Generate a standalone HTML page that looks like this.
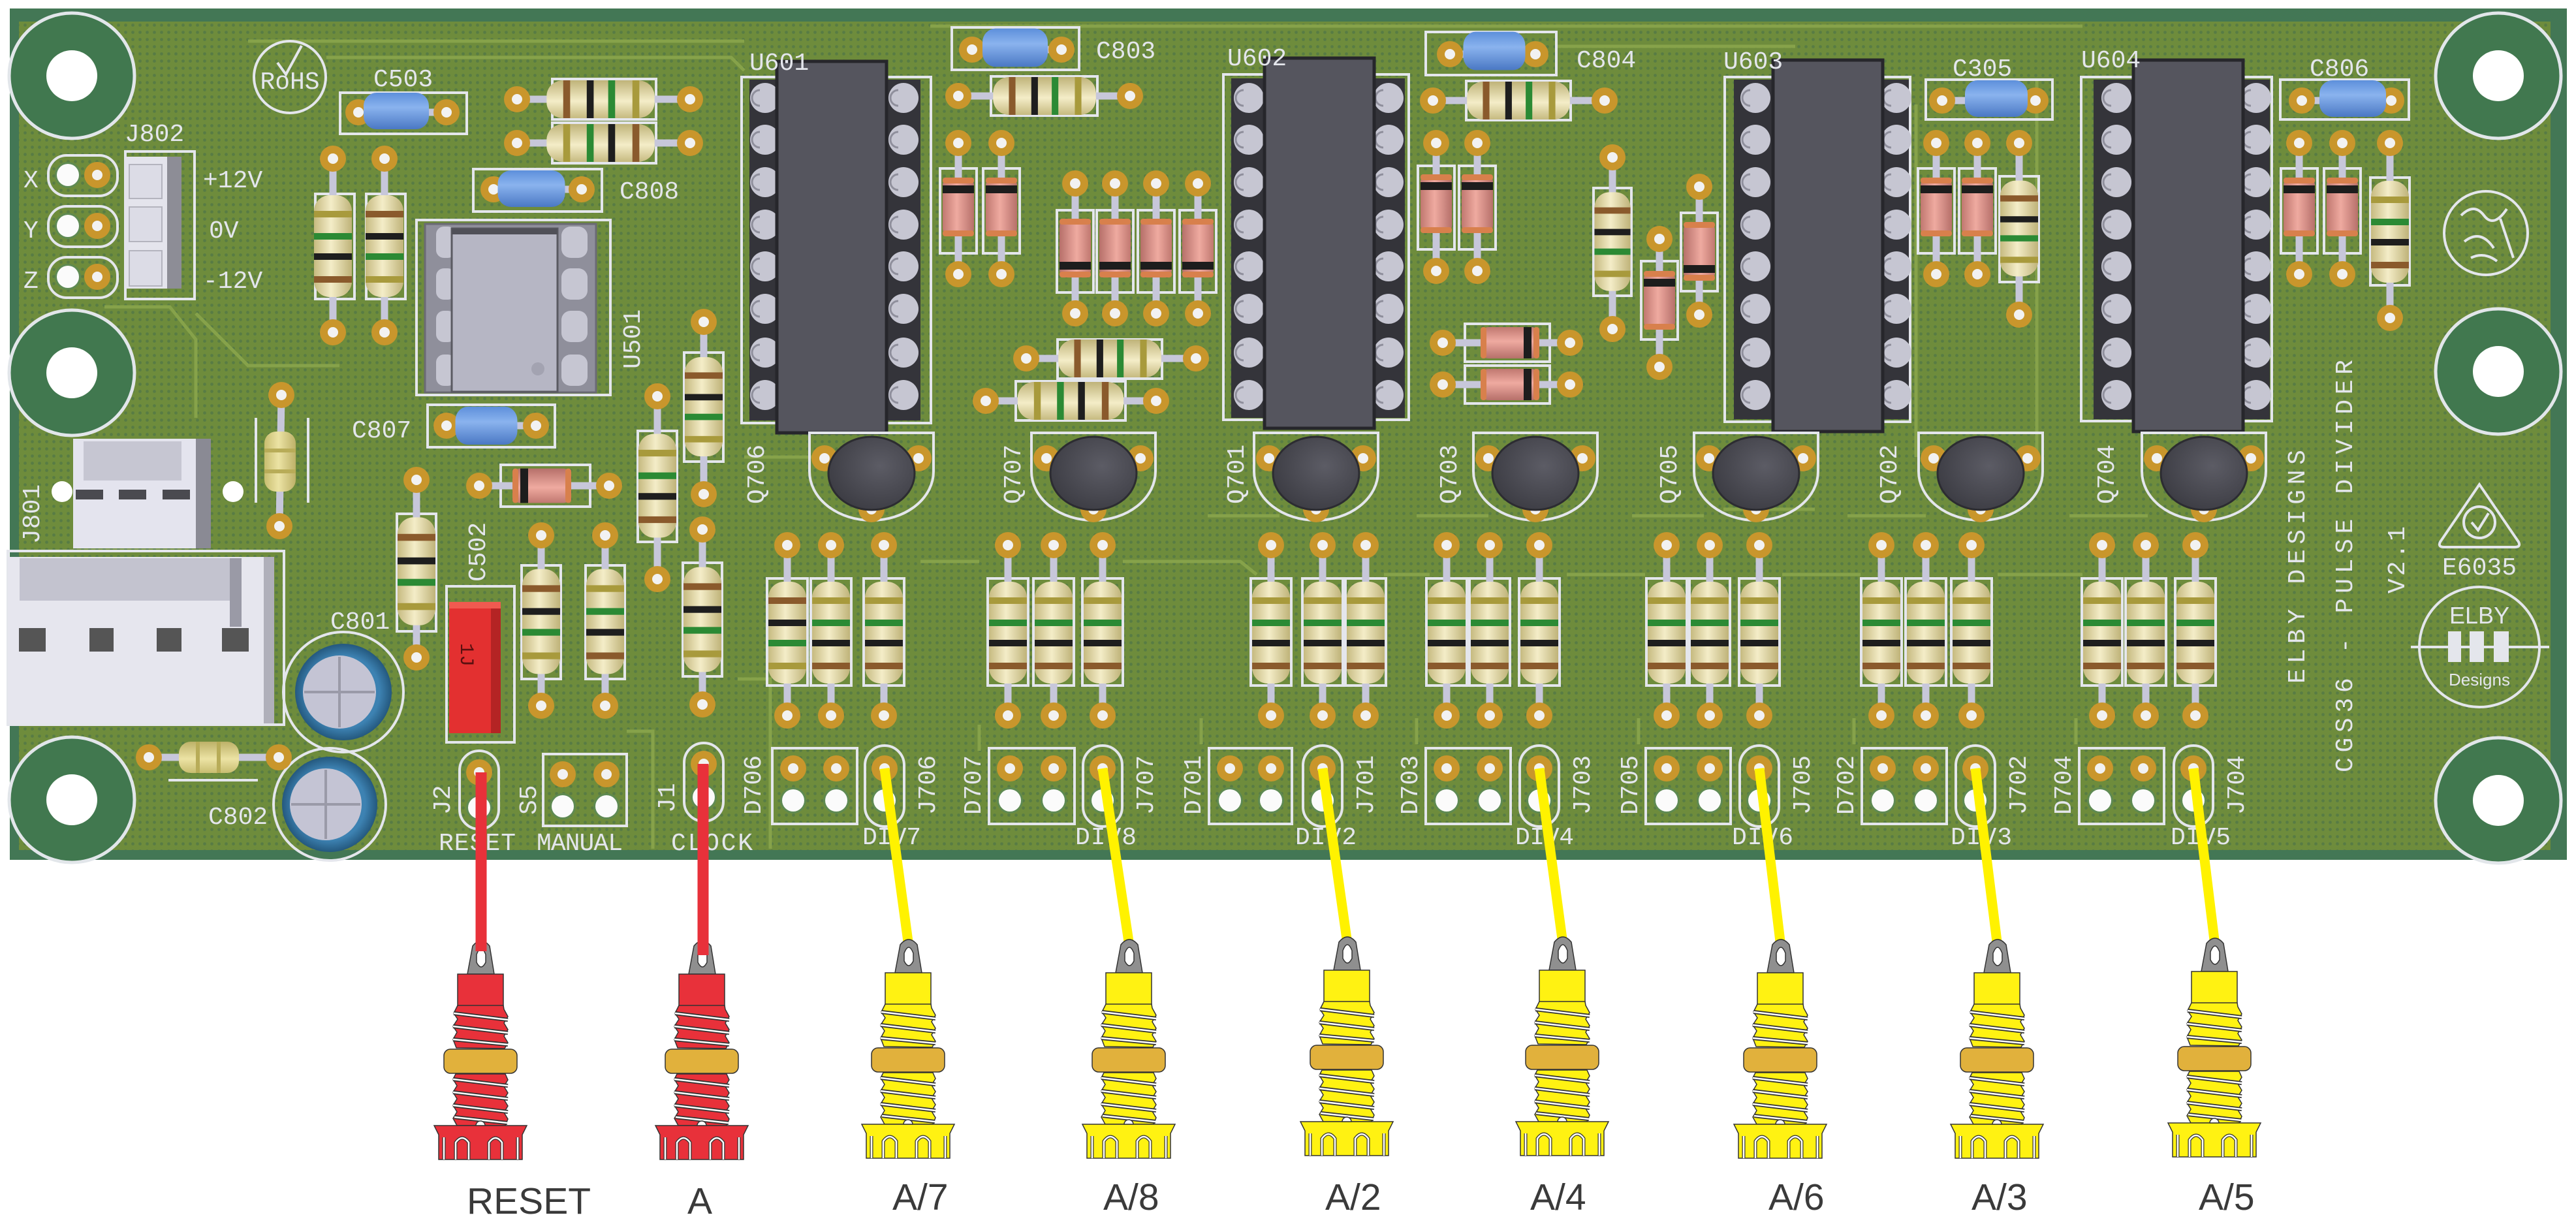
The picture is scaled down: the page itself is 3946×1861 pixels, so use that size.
<!DOCTYPE html>
<html><head><meta charset="utf-8"><style>
html,body{margin:0;padding:0;background:#fff;width:3946px;height:1861px;overflow:hidden}
svg{display:block}
.ld{stroke:#c7c7da;stroke-width:11;stroke-linecap:round;fill:none}
.sk{fill:none;stroke:#e4e6ec;stroke-width:4}
.tx{font-family:"Liberation Mono",monospace;fill:#e4e6ec;font-size:38px}
.tr{stroke:#86a24a;stroke-width:5;fill:none}
.lb{font-family:"Liberation Sans",Arial,sans-serif;font-size:57px;fill:#3a3a3a}
</style></head><body>
<svg width="3946" height="1861" viewBox="0 0 3946 1861" xmlns="http://www.w3.org/2000/svg">
<defs>
<pattern id="dots" width="11" height="11" patternUnits="userSpaceOnUse">
<rect width="11" height="11" fill="#6e8c3c"/><circle cx="5.5" cy="5.5" r="2.4" fill="#587c44"/>
</pattern>
<linearGradient id="gBeige" x1="0" y1="0" x2="1" y2="0"><stop offset="0" stop-color="#c6ba80"/><stop offset="0.45" stop-color="#f4edc8"/><stop offset="1" stop-color="#bfb379"/></linearGradient>
<linearGradient id="gYel" x1="0" y1="0" x2="1" y2="0"><stop offset="0" stop-color="#c8bd70"/><stop offset="0.45" stop-color="#ece3a4"/><stop offset="1" stop-color="#bdb168"/></linearGradient>
<linearGradient id="gPink" x1="0" y1="0" x2="1" y2="0"><stop offset="0" stop-color="#c07870"/><stop offset="0.45" stop-color="#efaaa0"/><stop offset="1" stop-color="#b6706a"/></linearGradient>
<linearGradient id="gBlue" x1="0" y1="0" x2="0" y2="1"><stop offset="0" stop-color="#5d8fdb"/><stop offset="0.4" stop-color="#8ab3ee"/><stop offset="1" stop-color="#4a78c4"/></linearGradient>
<radialGradient id="gTr" cx="0.6" cy="0.4" r="0.7"><stop offset="0" stop-color="#5c5c65"/><stop offset="1" stop-color="#3a3a41"/></radialGradient>
<radialGradient id="gEl" cx="0.5" cy="0.5" r="0.5"><stop offset="0.75" stop-color="#3d82b2"/><stop offset="1" stop-color="#24587e"/></radialGradient>

<g id="rvA">
<rect x="-29" y="-78" width="58" height="156" rx="24" fill="url(#gBeige)"/>
<rect x="-29" y="-54" width="58" height="10" fill="#a89a3c"/>
<rect x="-29" y="-20" width="58" height="10" fill="#2b8a34"/>
<rect x="-29" y="11" width="58" height="10" fill="#1e1e1e"/>
<rect x="-29" y="46" width="58" height="10" fill="#8a5a2c"/>
</g>
<g id="rvB">
<rect x="-29" y="-78" width="58" height="156" rx="24" fill="url(#gBeige)"/>
<rect x="-29" y="-54" width="58" height="10" fill="#8a5a2c"/>
<rect x="-29" y="-20" width="58" height="10" fill="#1e1e1e"/>
<rect x="-29" y="11" width="58" height="10" fill="#2b8a34"/>
<rect x="-29" y="46" width="58" height="10" fill="#a89a3c"/>
</g>
<g id="rvC"><rect x="-24" y="-46" width="48" height="92" rx="18" fill="url(#gYel)"/><rect x="-24" y="-20" width="48" height="6" fill="#b8ac58"/><rect x="-24" y="12" width="48" height="6" fill="#b8ac58"/></g>
<g id="dv">
<rect x="-24" y="-45" width="48" height="90" rx="12" fill="url(#gPink)"/>
<rect x="-24" y="-45" width="48" height="9" rx="4" fill="#d8804c"/>
<rect x="-24" y="36" width="48" height="9" rx="4" fill="#d8804c"/>
<rect x="-24" y="-33" width="48" height="12" fill="#1d1d1d"/>
</g>
<g id="cap"><rect x="-50" y="-28" width="100" height="56" rx="20" fill="url(#gBlue)"/></g>
<g id="pad"><circle r="20" fill="#c9962c"/><circle r="8" fill="#f2f2f2"/></g>
<g id="hw"><circle r="20" fill="#5f8a52"/><circle r="17" fill="#fbfbfb"/></g>
<g id="mh"><circle r="96" fill="#41784f" stroke="#e2e6ea" stroke-width="5"/><circle r="39" fill="#fff"/></g>
<g id="pin"><circle r="23" fill="#c6c6d2"/><path d="M-8,-12 A12,12 0 0 0 -8,12" stroke="#8f8f9c" stroke-width="3" fill="none"/></g>

<g id="tq">
<path d="M-95,663 L95,663 L95,722 A95,75 0 0 1 -95,722 Z" class="sk"/>
<use href="#pad" x="-72" y="702"/><use href="#pad" x="72" y="702"/><use href="#pad" x="0" y="780"/>
<ellipse cx="0" cy="725" rx="66" ry="56" fill="url(#gTr)" stroke="#2c2c31" stroke-width="3"/>
</g>
<g id="rrow">
<rect class="sk" x="-31" y="886" width="62" height="164"/>
<line class="ld" x1="0" y1="835" x2="0" y2="1096"/>
<use href="#pad" x="0" y="835"/><use href="#pad" x="0" y="1096"/>
<use href="#rvA" x="0" y="969"/>
</g>
<g id="rrowB">
<rect class="sk" x="-31" y="886" width="62" height="164"/>
<line class="ld" x1="0" y1="835" x2="0" y2="1096"/>
<use href="#pad" x="0" y="835"/><use href="#pad" x="0" y="1096"/>
<use href="#rvB" x="0" y="969"/>
</g>

<g id="jack" stroke="#333" stroke-width="1.5">
<path d="M-20,52 L-12,9 Q1,-7 14,9 L21,52 Z" fill="#8f8f8f"/>
<path d="M-6,22 Q1,4 8,22 L8,34 Q1,48 -6,34 Z" fill="#fff"/>
<rect x="-35" y="52" width="70" height="50"/>
<path d="M-35,100 L-41,112 L-35,121 L-42,132 L-36,141 L-42,152 L-37,165 L37,166 L42,157 L36,147 L42,137 L36,127 L42,117 L36,106 L35,100 Z"/>
<path d="M-41,112 L42,122 M-42,132 L42,142 M-42,152 L42,160" stroke="#333" stroke-width="6" fill="none"/>
<path d="M-41,112 L42,122 M-42,132 L42,142 M-42,152 L42,160" stroke="#fff" stroke-width="2.5" fill="none"/>
<rect x="-56" y="167" width="112" height="37" rx="10" fill="#e1b13c"/>
<path d="M-38,205 L38,205 L42,214 L36,224 L42,234 L36,244 L42,254 L36,264 L42,274 L38,284 L-36,284 L-42,273 L-36,263 L-42,253 L-36,243 L-42,233 L-36,223 L-42,213 Z"/>
<path d="M-42,213 L42,223 M-42,233 L42,243 M-42,253 L42,263 M-40,271 L41,280" stroke="#333" stroke-width="6" fill="none"/>
<path d="M-42,213 L42,223 M-42,233 L42,243 M-42,253 L42,263 M-40,271 L41,280" stroke="#fff" stroke-width="2.5" fill="none"/>
<path d="M-71,284 L71,284 L64,298 L64,336 L-64,336 L-64,298 Z"/>
<path d="M-7,284 A7,7 0 0 1 7,284 Z" fill="#fff"/>
<path d="M-38,336 V310 Q-28,296 -18,310 V336 M13,336 V310 Q23,296 33,310 V336 M-56,336 V302 M57,336 V302" stroke="#333" stroke-width="5" fill="none"/>
<path d="M-38,336 V310 Q-28,296 -18,310 V336 M13,336 V310 Q23,296 33,310 V336 M-56,336 V302 M57,336 V302" stroke="#fff" stroke-width="2.5" fill="none"/>
</g>
</defs>

<!-- BOARD -->
<rect x="15" y="13" width="3917" height="1304" fill="#437755"/>
<rect x="29" y="33" width="3878" height="1269" fill="url(#dots)"/>

<!-- traces -->
<path class="tr" d="M380,63 H1140 M500,88 H1120 L1140,108 M1425,40 H3190 M2384,71 H2750 M300,480 L380,560 H520 M160,470 H260 L300,520 V640 M1140,700 H1290 M1410,860 H1500 M1720,860 H1900 L1925,880 M2120,880 H2190 M2400,880 H2520 M2730,880 H2850 M3060,880 H3190 M3120,120 V720 M2935,160 V700 M2640,780 H2780 M1850,790 H1960 M2170,790 H2280 M2500,790 H2610 M2830,790 H2950 M3170,790 H3290 M1500,1150 V1110 M1840,1140 V1100 M2170,1140 V1100 M2510,1140 V1100 M2840,1140 V1100 M3180,1140 V1100 M1130,1040 H1180 V1300 M960,1120 H1000 V1300"/>

<!-- mounting holes -->
<use href="#mh" x="110" y="116"/><use href="#mh" x="110" y="571"/><use href="#mh" x="110" y="1225"/>
<use href="#mh" x="3827" y="116"/><use href="#mh" x="3827" y="569"/><use href="#mh" x="3827" y="1226"/>

<!-- RoHS -->
<circle cx="444" cy="118" r="55" class="sk" stroke-width="3"/>
<path d="M425,96 L438,114 L462,70" class="sk" stroke-width="3"/>
<text x="444" y="136" class="tx" font-size="24" text-anchor="middle">RoHS</text>

<!-- C503 -->
<text x="572" y="132" class="tx">C503</text>
<rect class="sk" x="521" y="142" width="194" height="63"/>
<line class="ld" x1="549" y1="172" x2="684" y2="172"/>
<use href="#pad" x="549" y="172"/><use href="#pad" x="684" y="172"/>
<use href="#cap" transform="translate(607,170)"/>

<!-- R1 R2 -->
<rect class="sk" x="846" y="121" width="159" height="62"/>
<line class="ld" x1="792" y1="152" x2="1057" y2="152"/>
<use href="#pad" x="792" y="152"/><use href="#pad" x="1057" y="152"/>
<use href="#rvB" transform="translate(920,152) rotate(-90) scale(1,1.06)"/>
<rect class="sk" x="846" y="188" width="159" height="62"/>
<line class="ld" x1="792" y1="219" x2="1057" y2="219"/>
<use href="#pad" x="792" y="219"/><use href="#pad" x="1057" y="219"/>
<use href="#rvA" transform="translate(920,219) rotate(-90) scale(1,1.06)"/>

<!-- C808 -->
<rect class="sk" x="725" y="259" width="197" height="65"/>
<line class="ld" x1="756" y1="290" x2="891" y2="290"/>
<use href="#pad" x="756" y="290"/><use href="#pad" x="891" y="290"/>
<use href="#cap" transform="translate(814,289) scale(1.03,1)"/>
<text x="949" y="304" class="tx">C808</text>

<!-- J802 -->
<text x="191" y="216" class="tx">J802</text>
<rect class="sk" x="192" y="232" width="106" height="226"/>
<rect x="191" y="240" width="87" height="202" fill="#e4e4ec"/>
<rect x="256" y="240" width="22" height="202" fill="#8d8d96"/>
<rect x="198" y="252" width="50" height="52" fill="#dcdce6" stroke="#b4b4be" stroke-width="2"/>
<rect x="198" y="317" width="50" height="53" fill="#dcdce6" stroke="#b4b4be" stroke-width="2"/>
<rect x="198" y="384" width="50" height="54" fill="#dcdce6" stroke="#b4b4be" stroke-width="2"/>
<text x="36" y="287" class="tx" font-size="36">X</text>
<text x="36" y="364" class="tx" font-size="36">Y</text>
<text x="36" y="441" class="tx" font-size="36">Z</text>
<rect class="sk" x="74" y="238" width="106" height="62" rx="28" stroke-width="3"/>
<rect class="sk" x="74" y="316" width="106" height="62" rx="28" stroke-width="3"/>
<rect class="sk" x="74" y="394" width="106" height="62" rx="28" stroke-width="3"/>
<use href="#hw" x="104" y="268"/><use href="#hw" x="104" y="346"/><use href="#hw" x="104" y="424"/>
<use href="#pad" x="149" y="268"/><use href="#pad" x="149" y="346"/><use href="#pad" x="149" y="424"/>
<text x="311" y="287" class="tx">+12V</text>
<text x="320" y="364" class="tx">0V</text>
<text x="311" y="441" class="tx">-12V</text>

<!-- R 510 589 -->
<rect class="sk" x="483" y="297" width="60" height="161"/>
<line class="ld" x1="510" y1="243" x2="510" y2="509"/>
<use href="#pad" x="510" y="243"/><use href="#pad" x="510" y="509"/>
<use href="#rvA" x="510" y="377"/>
<rect class="sk" x="561" y="297" width="60" height="161"/>
<line class="ld" x1="589" y1="243" x2="589" y2="509"/>
<use href="#pad" x="589" y="243"/><use href="#pad" x="589" y="509"/>
<use href="#rvB" x="589" y="377"/>

<!-- U501 -->
<rect class="sk" x="638" y="337" width="297" height="268"/>
<rect x="651" y="343" width="262" height="258" fill="#8f8f9b" stroke="#6a6a74" stroke-width="3"/>
<rect x="668" y="347" width="30" height="48" rx="12" fill="#c6c6d2"/><rect x="668" y="411" width="30" height="48" rx="12" fill="#c6c6d2"/>
<rect x="668" y="476" width="30" height="48" rx="12" fill="#c6c6d2"/><rect x="668" y="543" width="30" height="48" rx="12" fill="#c6c6d2"/>
<rect x="860" y="347" width="40" height="48" rx="14" fill="#c6c6d2"/><rect x="860" y="411" width="40" height="48" rx="14" fill="#c6c6d2"/>
<rect x="860" y="476" width="40" height="48" rx="14" fill="#c6c6d2"/><rect x="860" y="543" width="40" height="48" rx="14" fill="#c6c6d2"/>
<rect x="692" y="350" width="162" height="250" fill="#b6b6c4" stroke="#5a5a62" stroke-width="3"/>
<rect x="692" y="350" width="162" height="9" fill="#505058"/>
<circle cx="824" cy="565" r="10" fill="#a3a3b1"/>
<text transform="translate(980,565) rotate(-90)" class="tx">U501</text>

<!-- C807 -->
<text x="539" y="670" class="tx">C807</text>
<rect class="sk" x="655" y="620" width="195" height="65"/>
<line class="ld" x1="684" y1="652" x2="821" y2="652"/>
<use href="#pad" x="684" y="652"/><use href="#pad" x="821" y="652"/>
<use href="#cap" transform="translate(745,652) scale(0.95,1.04)"/>

<!-- resistors near U601 left -->
<rect class="sk" x="1048" y="540" width="60" height="167"/>
<line class="ld" x1="1078" y1="493" x2="1078" y2="757"/>
<use href="#pad" x="1078" y="493"/><use href="#pad" x="1078" y="757"/>
<use href="#rvB" transform="translate(1078,623) scale(1,0.975)"/>
<rect class="sk" x="977" y="660" width="60" height="170"/>
<line class="ld" x1="1007" y1="607" x2="1007" y2="887"/>
<use href="#pad" x="1007" y="607"/><use href="#pad" x="1007" y="887"/>
<use href="#rvA" transform="translate(1007,744) scale(1,1.02)"/>
<rect class="sk" x="1046" y="862" width="60" height="174"/>
<line class="ld" x1="1076" y1="811" x2="1076" y2="1079"/>
<use href="#pad" x="1076" y="811"/><use href="#pad" x="1076" y="1079"/>
<use href="#rvB" transform="translate(1076,949) scale(1,1.03)"/>

<!-- small resistor 428 -->
<line class="sk" x1="392" y1="640" x2="392" y2="770" stroke-width="3"/>
<line class="sk" x1="472" y1="640" x2="472" y2="770" stroke-width="3"/>
<line class="ld" x1="431" y1="605" x2="428" y2="806"/>
<use href="#pad" x="431" y="605"/><use href="#pad" x="428" y="806"/>
<use href="#rvC" x="429" y="707"/>

<!-- J801 -->
<text transform="translate(60,833) rotate(-90)" class="tx">J801</text>
<rect x="112" y="672" width="211" height="168" fill="#e4e4ee"/>
<rect x="128" y="676" width="150" height="60" fill="#c6c6d2"/>
<rect x="300" y="672" width="23" height="168" fill="#8a8a94"/>
<circle cx="95" cy="753" r="16" fill="#fff"/><circle cx="357" cy="753" r="16" fill="#fff"/>
<rect x="116" y="750" width="42" height="15" fill="#4a4a50"/><rect x="182" y="750" width="42" height="15" fill="#4a4a50"/><rect x="249" y="750" width="42" height="15" fill="#4a4a50"/>
<rect class="sk" x="12" y="844" width="423" height="266" stroke-width="3"/>
<rect x="12" y="853" width="408" height="255" fill="#e6e6ee"/>
<rect x="30" y="855" width="340" height="65" fill="#c3c3cf"/>
<rect x="352" y="855" width="18" height="105" fill="#9a9aa6"/>
<rect x="404" y="853" width="16" height="255" fill="#b0b0ba"/>
<rect x="29" y="962" width="41" height="36" fill="#555"/><rect x="137" y="962" width="37" height="36" fill="#555"/>
<rect x="240" y="962" width="38" height="36" fill="#555"/><rect x="340" y="962" width="41" height="36" fill="#555"/>

<!-- C801 C802 -->
<text x="506" y="963" class="tx">C801</text>
<circle cx="526" cy="1060" r="92" class="sk" stroke-width="3"/>
<circle cx="526" cy="1060" r="74" fill="url(#gEl)"/>
<circle cx="520" cy="1060" r="56" fill="#c4c4d4"/>
<path d="M520,1006 V1114 M466,1060 H574" stroke="#9a9aa8" stroke-width="4"/>
<text x="319" y="1262" class="tx">C802</text>
<circle cx="505" cy="1232" r="86" class="sk" stroke-width="3"/>
<circle cx="505" cy="1232" r="73" fill="url(#gEl)"/>
<circle cx="499" cy="1232" r="55" fill="#c4c4d4"/>
<path d="M499,1179 V1285 M446,1232 H552" stroke="#9a9aa8" stroke-width="4"/>

<!-- small horizontal resistor -->
<line class="sk" x1="258" y1="1195" x2="395" y2="1195" stroke-width="3"/>
<line class="ld" x1="228" y1="1160" x2="427" y2="1160"/>
<use href="#pad" x="228" y="1160"/><use href="#pad" x="427" y="1160"/>
<use href="#rvC" transform="translate(320,1160) rotate(-90)"/>

<!-- C502 -->
<text transform="translate(743,891) rotate(-90)" class="tx">C502</text>
<rect class="sk" x="684" y="898" width="104" height="239"/>
<rect x="688" y="922" width="79" height="201" fill="#e33030"/>
<rect x="752" y="922" width="15" height="201" fill="#b42424"/>
<rect x="688" y="922" width="79" height="10" fill="#f05a50"/>
<text transform="translate(706,985) rotate(90)" font-family="Liberation Mono,monospace" font-size="30" fill="#5a1010">1J</text>

<!-- R 638 -->
<rect class="sk" x="608" y="787" width="60" height="180"/>
<line class="ld" x1="638" y1="735" x2="638" y2="1007"/>
<use href="#pad" x="638" y="735"/><use href="#pad" x="638" y="1007"/>
<use href="#rvB" transform="translate(638,875) scale(1,1.06)"/>

<!-- diode horizontal -->
<rect class="sk" x="767" y="712" width="137" height="64"/>
<line class="ld" x1="734" y1="744" x2="933" y2="744"/>
<use href="#pad" x="734" y="744"/><use href="#pad" x="933" y="744"/>
<use href="#dv" transform="translate(830,744) rotate(-90) scale(1.1,1)"/>

<!-- R 829 927 -->
<rect class="sk" x="799" y="866" width="60" height="174"/>
<line class="ld" x1="829" y1="820" x2="829" y2="1081"/>
<use href="#pad" x="829" y="820"/><use href="#pad" x="829" y="1081"/>
<use href="#rvB" transform="translate(829,952) scale(1,1.03)"/>
<rect class="sk" x="897" y="866" width="60" height="174"/>
<line class="ld" x1="927" y1="820" x2="927" y2="1081"/>
<use href="#pad" x="927" y="820"/><use href="#pad" x="927" y="1081"/>
<use href="#rvA" transform="translate(927,952) scale(1,1.03)"/>

<!-- J2 S5 J1 -->
<rect class="sk" x="704" y="1150" width="60" height="120" rx="30" stroke-width="3"/>
<use href="#pad" x="734" y="1183"/><use href="#hw" x="734" y="1237"/>
<rect class="sk" x="832" y="1155" width="128" height="110" stroke-width="3"/>
<use href="#pad" x="862" y="1186"/><use href="#pad" x="929" y="1186"/><use href="#hw" x="862" y="1235"/><use href="#hw" x="929" y="1235"/>
<rect class="sk" x="1048" y="1138" width="60" height="120" rx="30" stroke-width="3"/>
<use href="#pad" x="1078" y="1170"/><use href="#hw" x="1078" y="1221"/>
<text transform="translate(689,1248) rotate(-90)" class="tx">J2</text>
<text transform="translate(821,1248) rotate(-90)" class="tx">S5</text>
<text transform="translate(1033,1245) rotate(-90)" class="tx">J1</text>
<text x="672" y="1302" class="tx" textLength="118">RESET</text>
<text x="822" y="1302" class="tx" textLength="132">MANUAL</text>
<text x="1028" y="1302" class="tx" textLength="125">CLOCK</text>

<!-- ICs -->
<g>
<rect class="sk" x="1136" y="118" width="290" height="530"/>
<rect x="1148" y="122" width="44" height="522" fill="#34343a"/><rect x="1356" y="122" width="54" height="522" fill="#34343a"/>
<use href="#pin" x="1172" y="150"/><use href="#pin" x="1172" y="214"/><use href="#pin" x="1172" y="279"/><use href="#pin" x="1172" y="344"/><use href="#pin" x="1172" y="408"/><use href="#pin" x="1172" y="473"/><use href="#pin" x="1172" y="540"/><use href="#pin" x="1172" y="605"/>
<use href="#pin" x="1384" y="150"/><use href="#pin" x="1384" y="214"/><use href="#pin" x="1384" y="279"/><use href="#pin" x="1384" y="344"/><use href="#pin" x="1384" y="408"/><use href="#pin" x="1384" y="473"/><use href="#pin" x="1384" y="540"/><use href="#pin" x="1384" y="605"/>
<rect x="1190" y="94" width="168" height="569" fill="#55555e" stroke="#26262b" stroke-width="5"/>
<text x="1148" y="107" class="tx">U601</text>
</g>
<g>
<rect class="sk" x="1874" y="114" width="284" height="529"/>
<rect x="1886" y="120" width="52" height="520" fill="#34343a"/><rect x="2104" y="120" width="48" height="520" fill="#34343a"/>
<use href="#pin" x="1913" y="150"/><use href="#pin" x="1913" y="214"/><use href="#pin" x="1913" y="279"/><use href="#pin" x="1913" y="344"/><use href="#pin" x="1913" y="408"/><use href="#pin" x="1913" y="473"/><use href="#pin" x="1913" y="540"/><use href="#pin" x="1913" y="605"/>
<use href="#pin" x="2127" y="150"/><use href="#pin" x="2127" y="214"/><use href="#pin" x="2127" y="279"/><use href="#pin" x="2127" y="344"/><use href="#pin" x="2127" y="408"/><use href="#pin" x="2127" y="473"/><use href="#pin" x="2127" y="540"/><use href="#pin" x="2127" y="605"/>
<rect x="1937" y="89" width="168" height="567" fill="#55555e" stroke="#26262b" stroke-width="5"/>
<text x="1880" y="100" class="tx">U602</text>
</g>
<g>
<rect class="sk" x="2642" y="118" width="284" height="528"/>
<rect x="2656" y="122" width="62" height="520" fill="#34343a"/><rect x="2882" y="122" width="42" height="520" fill="#34343a"/>
<use href="#pin" x="2689" y="150"/><use href="#pin" x="2689" y="214"/><use href="#pin" x="2689" y="279"/><use href="#pin" x="2689" y="344"/><use href="#pin" x="2689" y="408"/><use href="#pin" x="2689" y="473"/><use href="#pin" x="2689" y="540"/><use href="#pin" x="2689" y="605"/>
<use href="#pin" x="2905" y="150"/><use href="#pin" x="2905" y="214"/><use href="#pin" x="2905" y="279"/><use href="#pin" x="2905" y="344"/><use href="#pin" x="2905" y="408"/><use href="#pin" x="2905" y="473"/><use href="#pin" x="2905" y="540"/><use href="#pin" x="2905" y="605"/>
<rect x="2716" y="92" width="168" height="569" fill="#55555e" stroke="#26262b" stroke-width="5"/>
<text x="2640" y="105" class="tx">U603</text>
</g>
<g>
<rect class="sk" x="3188" y="118" width="292" height="527"/>
<rect x="3207" y="122" width="62" height="520" fill="#34343a"/><rect x="3434" y="122" width="43" height="520" fill="#34343a"/>
<use href="#pin" x="3242" y="150"/><use href="#pin" x="3242" y="214"/><use href="#pin" x="3242" y="279"/><use href="#pin" x="3242" y="344"/><use href="#pin" x="3242" y="408"/><use href="#pin" x="3242" y="473"/><use href="#pin" x="3242" y="540"/><use href="#pin" x="3242" y="605"/>
<use href="#pin" x="3456" y="150"/><use href="#pin" x="3456" y="214"/><use href="#pin" x="3456" y="279"/><use href="#pin" x="3456" y="344"/><use href="#pin" x="3456" y="408"/><use href="#pin" x="3456" y="473"/><use href="#pin" x="3456" y="540"/><use href="#pin" x="3456" y="605"/>
<rect x="3268" y="92" width="168" height="569" fill="#55555e" stroke="#26262b" stroke-width="5"/>
<text x="3188" y="103" class="tx">U604</text>
</g>

<!-- C803 + R -->
<rect class="sk" x="1458" y="42" width="195" height="65"/>
<line class="ld" x1="1489" y1="76" x2="1626" y2="76"/>
<use href="#pad" x="1489" y="76"/><use href="#pad" x="1626" y="76"/>
<use href="#cap" transform="translate(1555,73) scale(1,1.05)"/>
<text x="1679" y="89" class="tx">C803</text>
<rect class="sk" x="1518" y="117" width="163" height="60"/>
<line class="ld" x1="1468" y1="147" x2="1731" y2="147"/>
<use href="#pad" x="1468" y="147"/><use href="#pad" x="1731" y="147"/>
<use href="#rvB" transform="translate(1600,147) rotate(-90) scale(1,1.01)"/>

<!-- diodes 1468 1534 -->
<rect class="sk" x="1440" y="258" width="56" height="130"/><rect class="sk" x="1506" y="258" width="56" height="130"/>
<line class="ld" x1="1468" y1="219" x2="1468" y2="420"/><line class="ld" x1="1534" y1="219" x2="1534" y2="420"/>
<use href="#pad" x="1468" y="219"/><use href="#pad" x="1468" y="420"/><use href="#pad" x="1534" y="219"/><use href="#pad" x="1534" y="420"/>
<use href="#dv" x="1468" y="317"/><use href="#dv" x="1534" y="317"/>
<!-- 4 diodes -->
<rect class="sk" x="1619" y="322" width="56" height="126"/><rect class="sk" x="1680" y="322" width="56" height="126"/><rect class="sk" x="1743" y="322" width="56" height="126"/><rect class="sk" x="1807" y="322" width="56" height="126"/>
<line class="ld" x1="1647" y1="281" x2="1647" y2="480"/><line class="ld" x1="1708" y1="281" x2="1708" y2="480"/><line class="ld" x1="1771" y1="281" x2="1771" y2="480"/><line class="ld" x1="1835" y1="281" x2="1835" y2="480"/>
<use href="#pad" x="1647" y="281"/><use href="#pad" x="1647" y="480"/><use href="#pad" x="1708" y="281"/><use href="#pad" x="1708" y="480"/><use href="#pad" x="1771" y="281"/><use href="#pad" x="1771" y="480"/><use href="#pad" x="1835" y="281"/><use href="#pad" x="1835" y="480"/>
<use href="#dv" transform="translate(1647,380) rotate(180)"/><use href="#dv" transform="translate(1708,380) rotate(180)"/><use href="#dv" transform="translate(1771,380) rotate(180)"/><use href="#dv" transform="translate(1835,380) rotate(180)"/>
<!-- horizontal resistors -->
<rect class="sk" x="1620" y="520" width="160" height="60"/>
<line class="ld" x1="1572" y1="549" x2="1832" y2="549"/>
<use href="#pad" x="1572" y="549"/><use href="#pad" x="1832" y="549"/>
<use href="#rvB" transform="translate(1700,549) rotate(-90) scale(1,1.01)"/>
<rect class="sk" x="1556" y="584" width="168" height="60"/>
<line class="ld" x1="1510" y1="614" x2="1771" y2="614"/>
<use href="#pad" x="1510" y="614"/><use href="#pad" x="1771" y="614"/>
<use href="#rvA" transform="translate(1640,614) rotate(-90) scale(1,1.04)"/>

<!-- C804 + R -->
<rect class="sk" x="2184" y="49" width="200" height="66"/>
<line class="ld" x1="2221" y1="83" x2="2352" y2="83"/>
<use href="#pad" x="2221" y="83"/><use href="#pad" x="2352" y="83"/>
<use href="#cap" transform="translate(2289,78) scale(0.95,1.05)"/>
<text x="2415" y="103" class="tx">C804</text>
<rect class="sk" x="2246" y="124" width="160" height="60"/>
<line class="ld" x1="2195" y1="154" x2="2458" y2="154"/>
<use href="#pad" x="2195" y="154"/><use href="#pad" x="2458" y="154"/>
<use href="#rvB" transform="translate(2326,154) rotate(-90) scale(1,1.01)"/>
<!-- diodes 2200 2263 -->
<rect class="sk" x="2172" y="254" width="56" height="128"/><rect class="sk" x="2235" y="254" width="56" height="128"/>
<line class="ld" x1="2200" y1="219" x2="2200" y2="415"/><line class="ld" x1="2263" y1="219" x2="2263" y2="415"/>
<use href="#pad" x="2200" y="219"/><use href="#pad" x="2200" y="415"/><use href="#pad" x="2263" y="219"/><use href="#pad" x="2263" y="415"/>
<use href="#dv" x="2200" y="312"/><use href="#dv" x="2263" y="312"/>
<!-- R 2470 -->
<rect class="sk" x="2441" y="288" width="58" height="165"/>
<line class="ld" x1="2470" y1="241" x2="2470" y2="504"/>
<use href="#pad" x="2470" y="241"/><use href="#pad" x="2470" y="504"/>
<use href="#rvB" transform="translate(2470,370) scale(0.95,0.97)"/>
<!-- diode 2542, 2603 -->
<rect class="sk" x="2514" y="400" width="56" height="120"/>
<line class="ld" x1="2542" y1="366" x2="2542" y2="562"/>
<use href="#pad" x="2542" y="366"/><use href="#pad" x="2542" y="562"/>
<use href="#dv" x="2542" y="460"/>
<rect class="sk" x="2575" y="326" width="56" height="120"/>
<line class="ld" x1="2603" y1="286" x2="2603" y2="482"/>
<use href="#pad" x="2603" y="286"/><use href="#pad" x="2603" y="482"/>
<use href="#dv" transform="translate(2603,385) rotate(180)"/>
<!-- horizontal diodes -->
<rect class="sk" x="2244" y="496" width="130" height="58"/><rect class="sk" x="2244" y="560" width="130" height="58"/>
<line class="ld" x1="2210" y1="525" x2="2405" y2="525"/><line class="ld" x1="2210" y1="589" x2="2405" y2="589"/>
<use href="#pad" x="2210" y="525"/><use href="#pad" x="2405" y="525"/><use href="#pad" x="2210" y="589"/><use href="#pad" x="2405" y="589"/>
<use href="#dv" transform="translate(2313,525) rotate(90)"/><use href="#dv" transform="translate(2313,589) rotate(90)"/>

<!-- C305 area -->
<text x="2991" y="116" class="tx">C305</text>
<rect class="sk" x="2950" y="122" width="194" height="61"/>
<line class="ld" x1="2975" y1="154" x2="3118" y2="154"/>
<use href="#pad" x="2975" y="154"/><use href="#pad" x="3118" y="154"/>
<use href="#cap" transform="translate(3058,151) scale(0.96,1)"/>
<rect class="sk" x="2938" y="258" width="56" height="130"/><rect class="sk" x="3001" y="258" width="56" height="130"/>
<line class="ld" x1="2966" y1="219" x2="2966" y2="420"/><line class="ld" x1="3029" y1="219" x2="3029" y2="420"/>
<use href="#pad" x="2966" y="219"/><use href="#pad" x="2966" y="420"/><use href="#pad" x="3029" y="219"/><use href="#pad" x="3029" y="420"/>
<use href="#dv" x="2966" y="317"/><use href="#dv" x="3029" y="317"/>
<rect class="sk" x="3063" y="270" width="60" height="162"/>
<line class="ld" x1="3093" y1="219" x2="3093" y2="482"/>
<use href="#pad" x="3093" y="219"/><use href="#pad" x="3093" y="482"/>
<use href="#rvB" transform="translate(3093,350) scale(1,0.94)"/>

<!-- C806 area -->
<text x="3538" y="116" class="tx">C806</text>
<rect class="sk" x="3493" y="122" width="197" height="61"/>
<line class="ld" x1="3526" y1="154" x2="3663" y2="154"/>
<use href="#pad" x="3526" y="154"/><use href="#pad" x="3663" y="154"/>
<use href="#cap" transform="translate(3604,151) scale(1.02,1)"/>
<rect class="sk" x="3494" y="258" width="56" height="130"/><rect class="sk" x="3560" y="258" width="56" height="130"/>
<line class="ld" x1="3522" y1="219" x2="3522" y2="420"/><line class="ld" x1="3588" y1="219" x2="3588" y2="420"/>
<use href="#pad" x="3522" y="219"/><use href="#pad" x="3522" y="420"/><use href="#pad" x="3588" y="219"/><use href="#pad" x="3588" y="420"/>
<use href="#dv" x="3522" y="317"/><use href="#dv" x="3588" y="317"/>
<rect class="sk" x="3631" y="272" width="60" height="165"/>
<line class="ld" x1="3661" y1="219" x2="3661" y2="487"/>
<use href="#pad" x="3661" y="219"/><use href="#pad" x="3661" y="487"/>
<use href="#rvA" x="3661" y="355"/>

<!-- logo circle scribble -->
<circle cx="3808" cy="357" r="64" class="sk" stroke-width="3"/>
<path d="M3770,330 Q3790,310 3805,330 T3840,320 M3775,370 Q3800,350 3820,380 M3830,335 L3850,395 M3785,395 Q3805,385 3825,400" class="sk" stroke-width="2.5"/>

<!-- transistors -->
<use href="#tq" x="1335" y="0"/><use href="#tq" x="1675" y="0"/><use href="#tq" x="2016" y="0"/><use href="#tq" x="2352" y="0"/><use href="#tq" x="2690" y="0"/><use href="#tq" x="3034" y="0"/><use href="#tq" x="3376" y="0"/>
<text transform="translate(1170,772) rotate(-90)" class="tx">Q706</text>
<text transform="translate(1563,772) rotate(-90)" class="tx">Q707</text>
<text transform="translate(1905,772) rotate(-90)" class="tx">Q701</text>
<text transform="translate(2231,772) rotate(-90)" class="tx">Q703</text>
<text transform="translate(2568,772) rotate(-90)" class="tx">Q705</text>
<text transform="translate(2905,772) rotate(-90)" class="tx">Q702</text>
<text transform="translate(3238,772) rotate(-90)" class="tx">Q704</text>

<!-- resistor rows -->
<use href="#rrowB" x="1206"/><use href="#rrow" x="1273"/><use href="#rrow" x="1354"/>
<use href="#rrow" x="1544"/><use href="#rrow" x="1614"/><use href="#rrow" x="1689"/>
<use href="#rrow" x="1947"/><use href="#rrow" x="2026"/><use href="#rrow" x="2092"/>
<use href="#rrow" x="2216"/><use href="#rrow" x="2282"/><use href="#rrow" x="2358"/>
<use href="#rrow" x="2553"/><use href="#rrow" x="2619"/><use href="#rrow" x="2695"/>
<use href="#rrow" x="2882"/><use href="#rrow" x="2950"/><use href="#rrow" x="3020"/>
<use href="#rrow" x="3220"/><use href="#rrow" x="3287"/><use href="#rrow" x="3363"/>

<!-- jack pad groups -->
<g>
<rect class="sk" x="1183" y="1146" width="130" height="116" stroke-width="3"/><rect class="sk" x="1325" y="1142" width="60" height="124" rx="30" stroke-width="3"/>
<use href="#pad" x="1215" y="1177"/><use href="#pad" x="1281" y="1177"/><use href="#pad" x="1355" y="1177"/>
<use href="#hw" x="1215" y="1226"/><use href="#hw" x="1281" y="1226"/><use href="#hw" x="1355" y="1226"/>
<text transform="translate(1165,1248) rotate(-90)" class="tx">D706</text><text transform="translate(1432,1248) rotate(-90)" class="tx">J706</text>
<text x="1321" y="1293" class="tx" textLength="90">DIV7</text>

<rect class="sk" x="1515" y="1146" width="131" height="116" stroke-width="3"/><rect class="sk" x="1659" y="1142" width="60" height="124" rx="30" stroke-width="3"/>
<use href="#pad" x="1547" y="1177"/><use href="#pad" x="1614" y="1177"/><use href="#pad" x="1689" y="1177"/>
<use href="#hw" x="1547" y="1226"/><use href="#hw" x="1614" y="1226"/><use href="#hw" x="1689" y="1226"/>
<text transform="translate(1502,1248) rotate(-90)" class="tx">D707</text><text transform="translate(1766,1248) rotate(-90)" class="tx">J707</text>
<text x="1647" y="1293" class="tx" textLength="94">DIV8</text>

<rect class="sk" x="1852" y="1146" width="127" height="116" stroke-width="3"/><rect class="sk" x="1996" y="1142" width="60" height="124" rx="30" stroke-width="3"/>
<use href="#pad" x="1884" y="1177"/><use href="#pad" x="1947" y="1177"/><use href="#pad" x="2026" y="1177"/>
<use href="#hw" x="1884" y="1226"/><use href="#hw" x="1947" y="1226"/><use href="#hw" x="2026" y="1226"/>
<text transform="translate(1839,1248) rotate(-90)" class="tx">D701</text><text transform="translate(2103,1248) rotate(-90)" class="tx">J701</text>
<text x="1984" y="1293" class="tx" textLength="94">DIV2</text>

<rect class="sk" x="2184" y="1146" width="130" height="116" stroke-width="3"/><rect class="sk" x="2328" y="1142" width="60" height="124" rx="30" stroke-width="3"/>
<use href="#pad" x="2216" y="1177"/><use href="#pad" x="2282" y="1177"/><use href="#pad" x="2358" y="1177"/>
<use href="#hw" x="2216" y="1226"/><use href="#hw" x="2282" y="1226"/><use href="#hw" x="2358" y="1226"/>
<text transform="translate(2171,1248) rotate(-90)" class="tx">D703</text><text transform="translate(2435,1248) rotate(-90)" class="tx">J703</text>
<text x="2321" y="1293" class="tx" textLength="90">DIV4</text>

<rect class="sk" x="2521" y="1146" width="130" height="116" stroke-width="3"/><rect class="sk" x="2665" y="1142" width="60" height="124" rx="30" stroke-width="3"/>
<use href="#pad" x="2553" y="1177"/><use href="#pad" x="2619" y="1177"/><use href="#pad" x="2695" y="1177"/>
<use href="#hw" x="2553" y="1226"/><use href="#hw" x="2619" y="1226"/><use href="#hw" x="2695" y="1226"/>
<text transform="translate(2508,1248) rotate(-90)" class="tx">D705</text><text transform="translate(2772,1248) rotate(-90)" class="tx">J705</text>
<text x="2653" y="1293" class="tx" textLength="94">DIV6</text>

<rect class="sk" x="2852" y="1146" width="130" height="116" stroke-width="3"/><rect class="sk" x="2996" y="1142" width="60" height="124" rx="30" stroke-width="3"/>
<use href="#pad" x="2884" y="1177"/><use href="#pad" x="2950" y="1177"/><use href="#pad" x="3026" y="1177"/>
<use href="#hw" x="2884" y="1226"/><use href="#hw" x="2950" y="1226"/><use href="#hw" x="3026" y="1226"/>
<text transform="translate(2839,1248) rotate(-90)" class="tx">D702</text><text transform="translate(3103,1248) rotate(-90)" class="tx">J702</text>
<text x="2988" y="1293" class="tx" textLength="94">DIV3</text>

<rect class="sk" x="3185" y="1146" width="130" height="116" stroke-width="3"/><rect class="sk" x="3330" y="1142" width="60" height="124" rx="30" stroke-width="3"/>
<use href="#pad" x="3217" y="1177"/><use href="#pad" x="3283" y="1177"/><use href="#pad" x="3360" y="1177"/>
<use href="#hw" x="3217" y="1226"/><use href="#hw" x="3283" y="1226"/><use href="#hw" x="3360" y="1226"/>
<text transform="translate(3172,1248) rotate(-90)" class="tx">D704</text><text transform="translate(3437,1248) rotate(-90)" class="tx">J704</text>
<text x="3325" y="1293" class="tx" textLength="92">DIV5</text>
</g>

<!-- titles -->
<text transform="translate(3530,1047) rotate(-90)" class="tx" font-size="52" textLength="358">ELBY DESIGNS</text>
<text transform="translate(3603,1183) rotate(-90)" class="tx" font-size="52" textLength="632">CGS36 - PULSE DIVIDER</text>
<text transform="translate(3683,909) rotate(-90)" class="tx" font-size="52" textLength="103">V2.1</text>

<!-- RCM logo -->
<path d="M3798,742 L3858,830 Q3862,838 3852,838 L3744,838 Q3734,838 3738,830 Z" class="sk" stroke-width="5"/>
<circle cx="3798" cy="800" r="24" class="sk" stroke-width="4"/>
<path d="M3786,800 L3796,812 L3812,786" class="sk" stroke-width="4"/>
<text x="3798" y="880" class="tx" font-size="34" text-anchor="middle">E6035</text>
<!-- ELBY logo -->
<circle cx="3798" cy="991" r="92" class="sk" stroke-width="4"/>
<path d="M3693,991 H3905" class="sk" stroke-width="4"/>
<rect x="3750" y="967" width="20" height="47" fill="#e4e6ec"/><rect x="3783" y="967" width="22" height="47" fill="#e4e6ec"/><rect x="3820" y="967" width="23" height="47" fill="#e4e6ec"/>
<text x="3798" y="955" font-family="Liberation Sans,sans-serif" font-size="36" fill="#e4e6ec" text-anchor="middle">ELBY</text>
<text x="3798" y="1050" font-family="Liberation Sans,sans-serif" font-size="26" fill="#e4e6ec" text-anchor="middle">Designs</text>

<!-- yellow wires -->
<g stroke="#fff200" stroke-width="15">
<line x1="1355" y1="1177" x2="1391" y2="1442"/>
<line x1="1689" y1="1177" x2="1729" y2="1442"/>
<line x1="2026" y1="1177" x2="2063" y2="1438"/>
<line x1="2358" y1="1177" x2="2393" y2="1438"/>
<line x1="2695" y1="1177" x2="2727" y2="1442"/>
<line x1="3026" y1="1177" x2="3059" y2="1442"/>
<line x1="3360" y1="1177" x2="3392" y2="1440"/>
</g>

<!-- jacks -->
<use href="#jack" x="736" y="1440" fill="#e8313a"/>
<use href="#jack" x="1075" y="1440" fill="#e8313a"/>
<use href="#jack" x="1391" y="1438" fill="#fff212"/>
<use href="#jack" x="1729" y="1438" fill="#fff212"/>
<use href="#jack" x="2063" y="1434" fill="#fff212"/>
<use href="#jack" x="2393" y="1434" fill="#fff212"/>
<use href="#jack" x="2727" y="1438" fill="#fff212"/>
<use href="#jack" x="3059" y="1438" fill="#fff212"/>
<use href="#jack" x="3392" y="1436" fill="#fff212"/>

<!-- red wires -->
<line x1="737" y1="1183" x2="737" y2="1457" stroke="#e8313a" stroke-width="17"/>
<line x1="1077" y1="1170" x2="1077" y2="1463" stroke="#e8313a" stroke-width="17"/>

<!-- labels -->
<text x="715" y="1859" class="lb">RESET</text>
<text x="1053" y="1859" class="lb">A</text>
<text x="1367" y="1853" class="lb">A/7</text>
<text x="1690" y="1853" class="lb">A/8</text>
<text x="2030" y="1853" class="lb">A/2</text>
<text x="2344" y="1853" class="lb">A/4</text>
<text x="2709" y="1853" class="lb">A/6</text>
<text x="3020" y="1853" class="lb">A/3</text>
<text x="3368" y="1853" class="lb">A/5</text>
</svg>
</body></html>
